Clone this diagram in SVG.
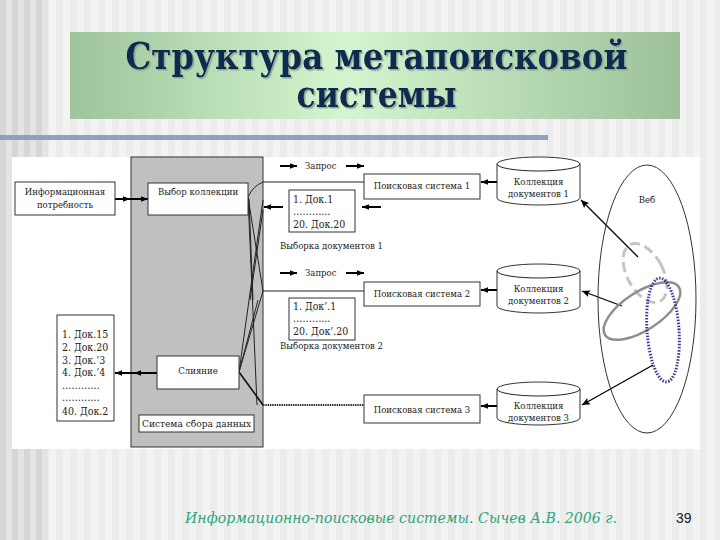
<svg xmlns="http://www.w3.org/2000/svg" width="720" height="540" viewBox="0 0 720 540">
<defs>
<pattern id="stripes" width="14" height="10" patternUnits="userSpaceOnUse">
<rect width="14" height="10" fill="#f3f3f3"/>
<rect width="7" height="10" fill="#ececec"/>
</pattern>
<pattern id="stripesDark" width="12" height="10" patternUnits="userSpaceOnUse">
<rect width="12" height="10" fill="#e4e4e4"/>
<rect width="6" height="10" fill="#d6d6d6"/>
</pattern>
<linearGradient id="titleGrad" x1="0" y1="0" x2="1" y2="0">
<stop offset="0" stop-color="#9ec49b"/>
<stop offset="0.45" stop-color="#d3f5cf"/>
<stop offset="1" stop-color="#9cc199"/>
</linearGradient>
<filter id="shadow" x="-5%" y="-20%" width="110%" height="140%">
<feDropShadow dx="1.5" dy="1.5" stdDeviation="0.3" flood-color="#8aa097" flood-opacity="0.9"/>
</filter>
<marker id="ah" viewBox="0 0 10 10" refX="10" refY="5" markerWidth="7" markerHeight="7" markerUnits="userSpaceOnUse" orient="auto">
<path d="M0,1 L10,5 L0,9 Z" fill="#000"/>
</marker>
<marker id="ahs" viewBox="0 0 10 10" refX="10" refY="5" markerWidth="8" markerHeight="8" markerUnits="userSpaceOnUse" orient="auto">
<path d="M0,0.5 L10,5 L0,9.5 L2,5 Z" fill="#000"/>
</marker>
<style>
.box{fill:#fff;stroke:#333;stroke-width:1}
.t{font-family:'DejaVu Serif Condensed','DejaVu Serif',serif;fill:#222;font-size:9.5px}
.tl{font-family:'DejaVu Serif Condensed','DejaVu Serif',serif;fill:#222;font-size:10.5px}
.c{text-anchor:middle}
.ln{stroke:#222;stroke-width:1;fill:none}
.arr{stroke:#000;stroke-width:2;fill:none;marker-end:url(#ah)}
.thin{stroke:#000;stroke-width:1.3;fill:none;marker-end:url(#ahs)}
</style>
</defs>

<!-- slide background -->
<rect x="0" y="0" width="720" height="540" fill="url(#stripes)"/>
<rect x="0" y="0" width="48" height="540" fill="url(#stripesDark)"/>
<rect x="0" y="135" width="548" height="5" fill="#8fa2bd"/>

<!-- title -->
<g id="title">
<rect x="70" y="32" width="610" height="87" fill="url(#titleGrad)"/>
<g font-family="'DejaVu Serif Condensed','DejaVu Serif',serif" font-weight="bold" font-size="37" text-anchor="middle" fill="#0c2a50" filter="url(#shadow)">
<text x="376.5" y="69" textLength="502" lengthAdjust="spacingAndGlyphs">Структура метапоисковой</text>
<text x="376.5" y="107" textLength="160" lengthAdjust="spacingAndGlyphs">системы</text>
</g>
</g>

<!-- white panel -->
<rect x="12" y="157" width="688" height="292" fill="#fff"/>

<!-- gray column -->
<g id="collector">
<rect x="131" y="157" width="132" height="290" fill="#c0c0c0" stroke="#333" stroke-width="1"/>
</g>

<!-- connectors -->
<g id="connectors">
<path class="ln" d="M248,197 Q253,186 263,182"/>
<path class="ln" d="M248,197 L263,291"/>
<path class="ln" d="M248,197 L257,405"/>
<path class="ln" d="M249,199 L253,300"/>
<path class="ln" d="M263,200 L239,372"/>
<path class="ln" d="M263,210 L250,300"/>
<path class="ln" d="M263,291 L239,372"/>
<path class="ln" d="M258,300 L239,372"/>
<path d="M239,372 L263,405" stroke="#111" stroke-width="1.6" fill="none"/>
<path class="ln" d="M263,182 L364,182"/>
<path class="ln" d="M263,291 L364,291"/>
<path d="M263,405 L364,405" stroke="#333" stroke-width="2" stroke-dasharray="1.5,0.8" fill="none"/>
<polyline points="115,199 130,199 148,199" stroke="#000" stroke-width="2" fill="none" marker-mid="url(#ah)" marker-end="url(#ah)"/>
<polyline points="157,373 134,373 115,373" stroke="#000" stroke-width="2" fill="none" marker-mid="url(#ah)" marker-end="url(#ah)"/>
<line class="arr" x1="280" y1="166" x2="297" y2="166"/>
<line class="arr" x1="346" y1="166" x2="364" y2="166"/>
<line class="arr" x1="280" y1="273" x2="297" y2="273"/>
<line class="arr" x1="346" y1="273" x2="364" y2="273"/>
<line class="arr" x1="283" y1="207" x2="264" y2="207"/>
<line class="arr" x1="381" y1="207" x2="362" y2="207"/>
<line class="arr" x1="497" y1="182" x2="481" y2="182"/>
<line class="arr" x1="497" y1="290" x2="481" y2="290"/>
<line class="arr" x1="497" y1="406" x2="481" y2="406"/>
<line class="thin" x1="638" y1="257" x2="581" y2="200"/>
<line class="thin" x1="622" y1="306" x2="582" y2="291"/>
<line class="thin" x1="653" y1="365" x2="582" y2="405"/>
</g>

<!-- nodes -->
<g id="need">
<rect class="box" x="15" y="182" width="100" height="33"/>
<text class="t c" x="65" y="195">Информационная</text>
<text class="t c" x="65" y="208">потребность</text>
</g>
<g id="choice">
<rect class="box" x="148" y="183" width="100" height="32"/>
<text class="t c" x="198" y="195">Выбор коллекции</text>
</g>
<g id="merge">
<rect class="box" x="157" y="356" width="82" height="33"/>
<text class="t c" x="198" y="374">Слияние</text>
</g>
<g id="collector-label">
<rect class="box" x="139" y="415" width="115" height="17"/>
<text class="t" x="142" y="427" textLength="109" lengthAdjust="spacingAndGlyphs">Система сбора данных</text>
</g>
<g id="merged-list">
<rect class="box" x="57" y="315" width="57" height="106"/>
<text class="tl" x="62" y="338">1. Док.15</text>
<text class="tl" x="62" y="351">2. Док.20</text>
<text class="tl" x="62" y="364">3. Док.’3</text>
<text class="tl" x="62" y="376">4. Док.’4</text>
<text class="tl" x="62" y="389">…………</text>
<text class="tl" x="62" y="401">…………</text>
<text class="tl" x="62" y="415">40. Док.2</text>
</g>

<g id="query1"><text class="t" x="305" y="169" font-size="10">Запрос</text></g>
<g id="query2"><text class="t" x="305" y="276" font-size="10">Запрос</text></g>

<g id="results1">
<rect class="box" x="289" y="190" width="66" height="42"/>
<text class="tl" x="293" y="203">1. Док.1</text>
<text class="tl" x="293" y="215">………...</text>
<text class="tl" x="293" y="228">20. Док.20</text>
<text class="t" x="280" y="249" font-size="9.5">Выборка документов 1</text>
</g>
<g id="results2">
<rect class="box" x="289" y="298" width="66" height="42"/>
<text class="tl" x="293" y="310">1. Док’.1</text>
<text class="tl" x="293" y="322">………...</text>
<text class="tl" x="293" y="335">20. Док’.20</text>
<text class="t" x="280" y="349" font-size="9.5">Выборка документов 2</text>
</g>

<g id="search1">
<rect class="box" x="364" y="174" width="116" height="25"/>
<text class="t c" x="422" y="189">Поисковая система 1</text>
</g>
<g id="search2">
<rect class="box" x="364" y="282" width="116" height="24"/>
<text class="t c" x="422" y="297">Поисковая система 2</text>
</g>
<g id="search3">
<rect class="box" x="364" y="395" width="116" height="28"/>
<text class="t c" x="422" y="413">Поисковая система 3</text>
</g>

<g id="coll1">
<path class="box" d="M497,164 A41.5,7 0 0,1 580,164 L580,198 A41.5,7 0 0,1 497,198 Z"/>
<path class="ln" stroke="#333" d="M497,164 A41.5,7 0 0,0 580,164"/>
<text class="t c" x="538.5" y="185">Коллекция</text>
<text class="t c" x="538.5" y="197">документов 1</text>
</g>
<g id="coll2">
<path class="box" d="M497,271 A41.5,7 0 0,1 580,271 L580,306 A41.5,7 0 0,1 497,306 Z"/>
<path class="ln" stroke="#333" d="M497,271 A41.5,7 0 0,0 580,271"/>
<text class="t c" x="538.5" y="292">Коллекция</text>
<text class="t c" x="538.5" y="304">документов 2</text>
</g>
<g id="coll3">
<path class="box" d="M497,389 A41.5,7 0 0,1 580,389 L580,418 A41.5,7 0 0,1 497,418 Z"/>
<path class="ln" stroke="#333" d="M497,389 A41.5,7 0 0,0 580,389"/>
<text class="t c" x="538.5" y="409">Коллекция</text>
<text class="t c" x="538.5" y="421">документов 3</text>
</g>

<g id="web">
<ellipse cx="647" cy="299" rx="49" ry="134" fill="none" stroke="#333" stroke-width="1"/>
<text class="t c" x="647" y="203" font-size="11">Веб</text>
<ellipse cx="645" cy="273" rx="18" ry="32" transform="rotate(-28 645 273)" fill="none" stroke="#c4c4c4" stroke-width="3" stroke-dasharray="10,5"/>
<ellipse cx="642" cy="311" rx="44" ry="19" transform="rotate(-33 642 311)" fill="none" stroke="#8e8e8e" stroke-width="2.5"/>
<ellipse cx="663" cy="330" rx="16" ry="52" transform="rotate(-4 663 330)" fill="none" stroke="#3a3a96" stroke-width="3" stroke-dasharray="1.5,1.5"/>
</g>

<!-- footer -->
<text x="185" y="523" font-family="'DejaVu Serif Condensed','DejaVu Serif',serif" font-style="italic" font-size="15" fill="#2ea57a" textLength="432" lengthAdjust="spacingAndGlyphs">Информационно-поисковые системы. Сычев А.В. 2006 г.</text>
<text x="676" y="523" font-family="'Liberation Sans','DejaVu Sans',sans-serif" font-size="14" fill="#222">39</text>
</svg>
